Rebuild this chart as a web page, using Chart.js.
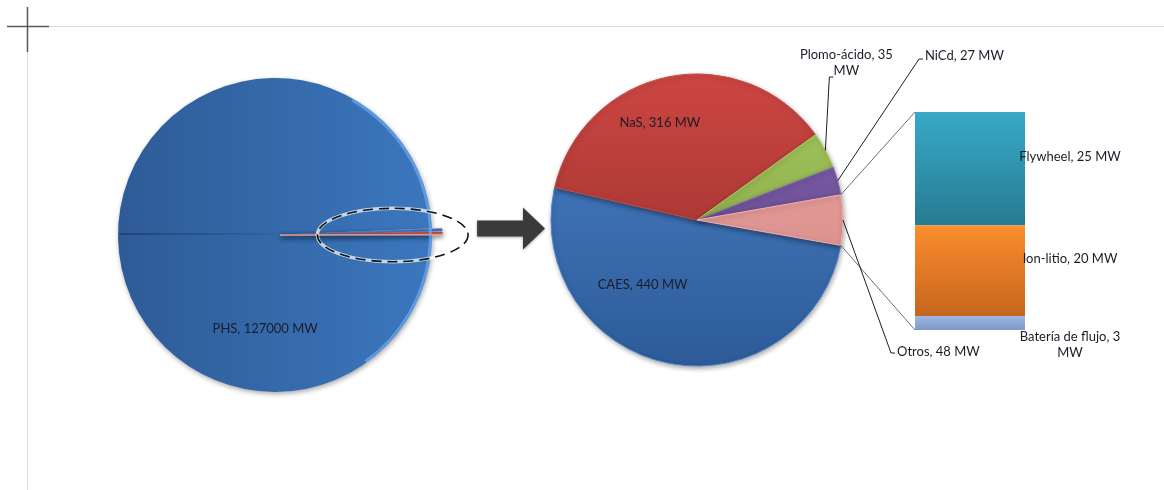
<!DOCTYPE html>
<html>
<head>
<meta charset="utf-8">
<script src="https://cdn.jsdelivr.net/npm/chart.js@4.4.1/dist/chart.umd.min.js"></script>
<style>
  html, body { margin: 0; padding: 0; background: #fff; }
  #page { position: relative; width: 1164px; height: 490px; overflow: hidden; background: #fff; }
  #page canvas { position: absolute; }
  #notes { pointer-events: none; }
</style>
</head>
<body>
<div id="page">
  <canvas id="phsPie" style="left:80px;top:40px" width="390" height="390"></canvas>
  <canvas id="detailPie" style="left:537px;top:60px" width="320" height="320"></canvas>
  <canvas id="otherBar" style="left:860px;top:40px" width="300" height="350"></canvas>
  <canvas id="notes" style="left:0;top:0" width="1164" height="490"></canvas>
</div>
<script>
// capacidad instalada de almacenamiento (MW)
const mainLabels = ['PHS', 'CAES', 'NaS', 'Plomo-ácido', 'NiCd', 'Otros'];
const mainValues = [127000, 440, 316, 35, 27, 48];

const detailLabels = ['CAES', 'NaS', 'Plomo-ácido', 'NiCd', 'Otros'];
const detailValues = [440, 316, 35, 27, 48];

// desglose de "Otros", de abajo hacia arriba
const otherLabels = ['Batería de flujo', 'Ion-litio', 'Flywheel'];
const otherValues = [3, 20, 25];

const unit = 'MW';

// colores claro / oscuro de cada tecnología
const shades = {
  'PHS': ['#2e5b96', '#3b77be'],
  'CAES': ['#4a81c9', '#2d5b98'],
  'NaS': ['#cd4642', '#8c2d2a'],
  'Plomo-ácido': ['#a8cb62', '#789839'],
  'NiCd': ['#8466ae', '#593c84'],
  'Otros': ['#f0aeaa', '#cf7e7a'],
  'Flywheel': ['#39a9c8', '#267b91'],
  'Ion-litio': ['#fb8d2d', '#c5661f'],
  'Batería de flujo': ['#9db5e1', '#7f98ca']
};

const MAIN_R = 157;
const DETAIL_R = 146;
const FONT = '13px Lato, "Open Sans", sans-serif';

Chart.defaults.font.family = 'Lato';
Chart.defaults.animation = false;

function pieFill(names, radius, horizontal) {
  return (c) => {
    const pair = shades[names[c.dataIndex]];
    const area = c.chart.chartArea;
    if (!area) return pair[0];
    const cx = (area.left + area.right) / 2, cy = (area.top + area.bottom) / 2;
    const g = horizontal
      ? c.chart.ctx.createLinearGradient(cx - radius, 0, cx + radius, 0)
      : c.chart.ctx.createLinearGradient(0, cy - radius, 0, cy + radius);
    g.addColorStop(0, pair[0]);
    g.addColorStop(1, pair[1]);
    return g;
  };
}

function barFill(i) {
  return (c) => {
    const pair = shades[otherLabels[i]];
    const y = c.chart.scales.y;
    if (!y) return pair[0];
    const below = otherValues.slice(0, i).reduce((a, b) => a + b, 0);
    const top = y.getPixelForValue(below + otherValues[i]);
    const bottom = y.getPixelForValue(below);
    if (!isFinite(top) || !isFinite(bottom) || top === bottom) return pair[0];
    const g = c.chart.ctx.createLinearGradient(0, top, 0, bottom);
    g.addColorStop(0, pair[0]);
    g.addColorStop(1, pair[1]);
    return g;
  };
}

// sombra suave bajo los sectores
const softShadow = {
  id: 'softShadow',
  beforeDatasetsDraw(chart) {
    const ctx = chart.ctx;
    ctx.save();
    ctx.shadowColor = 'rgba(0,0,0,0.35)';
    ctx.shadowBlur = 5;
    ctx.shadowOffsetX = 1;
    ctx.shadowOffsetY = 2;
  },
  afterDatasetsDraw(chart) {
    chart.ctx.restore();
  }
};

const quiet = { legend: { display: false }, tooltip: { enabled: false } };

const phsChart = new Chart(document.getElementById('phsPie'), {
  type: 'pie',
  data: {
    labels: mainLabels,
    datasets: [{
      data: mainValues,
      backgroundColor: pieFill(mainLabels, MAIN_R, true),
      borderColor: mainLabels.map(n => shades[n][0]),
      borderWidth: mainValues.map((v, i) => i === 0 ? 0 : 1.2),
      offset: mainValues.map((v, i) => i === 0 ? 0 : 20),
      rotation: 90,
      radius: MAIN_R
    }]
  },
  options: { responsive: false, devicePixelRatio: 1, plugins: quiet },
  plugins: [softShadow]
});

const detailChart = new Chart(document.getElementById('detailPie'), {
  type: 'pie',
  data: {
    labels: detailLabels,
    datasets: [{
      data: detailValues,
      backgroundColor: pieFill(detailLabels, DETAIL_R, false),
      borderColor: detailLabels.map(n => shades[n][0]),
      borderWidth: 1,
      rotation: 100,
      radius: DETAIL_R
    }]
  },
  options: { responsive: false, devicePixelRatio: 1, plugins: quiet },
  plugins: [softShadow]
});

const otherChart = new Chart(document.getElementById('otherBar'), {
  type: 'bar',
  data: {
    labels: ['Otros'],
    datasets: otherLabels.map((name, i) => ({
      label: name,
      data: [otherValues[i]],
      backgroundColor: barFill(i),
      borderColor: shades[name][0],
      borderWidth: { top: 2, left: 0, right: 0, bottom: 0 },
      borderSkipped: false,
      barPercentage: 1,
      categoryPercentage: 1
    }))
  },
  options: {
    responsive: false,
    devicePixelRatio: 1,
    layout: { padding: { left: 55, right: 135, top: 72, bottom: 60 } },
    scales: {
      x: { display: false, stacked: true },
      y: { display: false, stacked: true, min: 0, max: otherValues.reduce((a, b) => a + b, 0) }
    },
    plugins: quiet
  }
});

// ---- anotaciones: etiquetas, guías, flecha y elipse ----

function origin(chart) {
  return { x: chart.canvas.offsetLeft, y: chart.canvas.offsetTop };
}

// punto sobre un sector: deg en grados desde las 12 en sentido horario
function polar(cx, cy, deg, r) {
  const a = deg * Math.PI / 180;
  return { x: cx + Math.sin(a) * r, y: cy - Math.cos(a) * r };
}

function arcEdge(chart, i, frac) {
  const o = origin(chart);
  const el = chart.getDatasetMeta(0).data[i];
  const a = el.startAngle + (el.endAngle - el.startAngle) * frac;
  return { x: o.x + el.x + Math.cos(a) * el.outerRadius, y: o.y + el.y + Math.sin(a) * el.outerRadius };
}

function drawNotes() {
  const cv = document.getElementById('notes');
  const g = cv.getContext('2d');
  g.clearRect(0, 0, cv.width, cv.height);

  // márgenes de la hoja
  g.strokeStyle = '#dadada';
  g.lineWidth = 1;
  g.beginPath();
  g.moveTo(28, 26.5); g.lineTo(cv.width, 26.5);
  g.moveTo(27.5, 27); g.lineTo(27.5, cv.height);
  g.stroke();
  g.strokeStyle = '#5a5a5a';
  g.lineWidth = 1.5;
  g.beginPath();
  g.moveTo(7, 26.5); g.lineTo(49, 26.5);
  g.moveTo(27.5, 7); g.lineTo(27.5, 52);
  g.stroke();

  const po = origin(phsChart);
  const phsEl = phsChart.getDatasetMeta(0).data[0];
  const pcx = po.x + phsEl.x, pcy = po.y + phsEl.y, pr = phsEl.outerRadius;

  const dout = origin(detailChart);
  const dEl = detailChart.getDatasetMeta(0).data[0];
  const dcx = dout.x + dEl.x, dcy = dout.y + dEl.y, dr = dEl.outerRadius;

  // brillo del borde derecho y arista del sector grande
  g.save();
  g.strokeStyle = 'rgba(110,170,240,0.7)';
  g.lineWidth = 3;
  g.beginPath();
  g.arc(pcx, pcy, pr - 1.5, -1.05, 0.95);
  g.stroke();
  const edge = g.createLinearGradient(pcx - pr, 0, pcx, 0);
  edge.addColorStop(0, 'rgba(25,40,65,0.6)');
  edge.addColorStop(1, 'rgba(25,40,65,0.1)');
  g.strokeStyle = edge;
  g.lineWidth = 1.5;
  g.beginPath();
  g.moveTo(pcx - pr + 1, pcy - 1);
  g.lineTo(pcx + 40, pcy - 1);
  g.stroke();
  g.restore();

  // elipse punteada alrededor de los sectores pequeños
  const ex = pcx + pr * 0.75, erx = pr * 0.48, ery = pr * 0.17;
  g.save();
  g.strokeStyle = 'rgba(255,255,255,0.7)';
  g.lineWidth = 3.5;
  g.beginPath(); g.ellipse(ex, pcy, erx, ery, 0, 0, Math.PI * 2); g.stroke();
  g.strokeStyle = '#111';
  g.lineWidth = 1.6;
  g.setLineDash([10, 6]);
  g.beginPath(); g.ellipse(ex, pcy, erx, ery, 0, 0, Math.PI * 2); g.stroke();
  g.restore();

  // flecha hacia el detalle
  const ay = (pcy + dcy) / 2 + 1;
  const ax0 = ex + erx + 9, ax1 = dcx - dr - 6;
  const head = 22;
  g.save();
  g.shadowColor = 'rgba(0,0,0,0.35)';
  g.shadowBlur = 3;
  g.shadowOffsetY = 1;
  g.fillStyle = '#3a3a3a';
  g.beginPath();
  g.moveTo(ax0, ay - 8);
  g.lineTo(ax1 - head, ay - 8);
  g.lineTo(ax1 - head, ay - 21);
  g.lineTo(ax1, ay);
  g.lineTo(ax1 - head, ay + 21);
  g.lineTo(ax1 - head, ay + 8);
  g.lineTo(ax0, ay + 8);
  g.closePath();
  g.fill();
  g.restore();

  // líneas de unión entre "Otros" y la barra
  const bars = otherChart.getDatasetMeta(otherLabels.length - 1).data[0];
  const base = otherChart.getDatasetMeta(0).data[0];
  const bo = origin(otherChart);
  const barLeft = bo.x + bars.x - bars.width / 2;
  const barRight = bo.x + bars.x + bars.width / 2;
  const barTop = bo.y + bars.y, barBottom = bo.y + base.base;
  const otrosIdx = detailLabels.indexOf('Otros');
  const s0 = arcEdge(detailChart, otrosIdx, 0), s1 = arcEdge(detailChart, otrosIdx, 1);
  g.strokeStyle = '#6f6f6f';
  g.lineWidth = 1;
  g.beginPath();
  g.moveTo(s0.x, s0.y); g.lineTo(barLeft, barTop);
  g.moveTo(s1.x, s1.y); g.lineTo(barLeft, barBottom);
  g.stroke();

  g.font = FONT;
  g.fillStyle = '#1c1c28';
  g.textBaseline = 'middle';

  const say = (lines, x, y, align, step) => {
    g.textAlign = align;
    lines.forEach((t, k) => g.fillText(t, x, y + k * (step || 16)));
  };
  const tag = (name, value) => name + ', ' + value + ' ' + unit;

  // etiquetas dentro de los sectores
  let p = polar(pcx, pcy, 186, pr * 0.6);
  say([tag(mainLabels[0], mainValues[0])], p.x, p.y, 'center');
  p = polar(dcx, dcy, 339, dr * 0.71);
  say([tag('NaS', detailValues[1])], p.x, p.y, 'center');
  p = polar(dcx, dcy, 220, dr * 0.58);
  say([tag('CAES', detailValues[0])], p.x, p.y, 'center');

  // etiquetas exteriores con guía
  g.strokeStyle = '#1e1e1e';
  g.lineWidth = 1;
  const guide = (pts) => {
    g.beginPath();
    g.moveTo(pts[0].x, pts[0].y);
    pts.slice(1).forEach(q => g.lineTo(q.x, q.y));
    g.stroke();
  };

  const ePb = arcEdge(detailChart, 2, 0.5);
  guide([ePb, { x: ePb.x + 4, y: 77 }, { x: ePb.x + 8, y: 77 }]);
  say(['Plomo-ácido, ' + detailValues[2], unit], ePb.x + 21, 55, 'center');

  const eNi = arcEdge(detailChart, 3, 0.5);
  guide([eNi, { x: 919, y: 59 }, { x: 923, y: 59 }]);
  say([tag('NiCd', detailValues[3])], 925, 56, 'left');

  const eOt = arcEdge(detailChart, 4, 0.5);
  guide([eOt, { x: 891, y: 353 }, { x: 895, y: 353 }]);
  say([tag('Otros', detailValues[4])], 897, 352, 'left');

  // etiquetas de la barra
  const lx = barRight + 45;
  otherLabels.forEach((name, i) => {
    const el = otherChart.getDatasetMeta(i).data[0];
    const top = bo.y + el.y, bottom = bo.y + el.base;
    if (bottom - top > 30) {
      say([tag(name, otherValues[i])], lx, (top + bottom) / 2 - 12, 'center');
    } else {
      say([name + ', ' + otherValues[i], unit], lx, bottom + 7, 'center');
    }
  });
}

drawNotes();
</script>
</body>
</html>
